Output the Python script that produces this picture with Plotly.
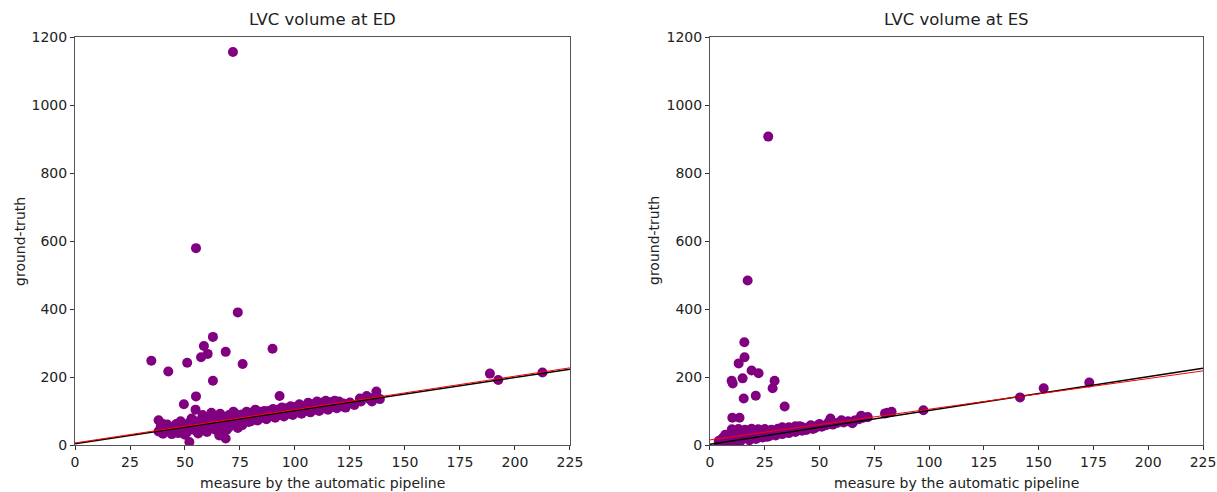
import plotly.graph_objects as go
from plotly.subplots import make_subplots

# ---------------- data ----------------
ed_outlier_x = [71.8, 55, 74, 34.7, 42.4, 51, 58.6, 57.3, 60.3, 62.7, 68.5, 76.2, 89.8, 62.7, 55,
                49.5, 54.8, 93, 38, 52, 68.5, 65.6, 188.6, 192.4, 212.5, 137, 138.6, 129.5, 132.6, 124]
ed_outlier_y = [1156, 579, 390, 248, 216, 242, 291, 258, 268, 318, 274, 238, 283, 189, 143,
                120, 104, 144, 73, 9, 19, 28, 210, 191, 213, 157, 135, 137, 144, 120]

ed_band_x = [38, 39, 40, 41, 42, 43, 44, 45, 46, 47, 48, 49, 50, 51, 52, 53, 54, 55, 56, 57,
             58, 59, 60, 61, 62, 63, 64, 65, 66, 67, 68, 69, 70, 71, 72, 73, 74, 75, 76, 77,
             78, 79, 80, 81, 82, 83, 84, 85, 86, 87, 88, 89, 90, 91, 92, 93, 94, 95, 96, 97,
             98, 99, 100, 101, 102, 103, 104, 105, 106, 107, 108, 109, 110, 111, 112, 113, 114, 115, 116, 117,
             118, 119, 120, 121, 122, 123, 125, 127, 130, 134, 136, 135,
             40, 44, 48, 50, 53, 56, 58, 60, 62, 64, 66, 67, 70, 72, 74, 58, 62, 46, 54, 66,
             70, 76, 80, 84, 88, 92, 96, 100, 104, 108, 112, 116, 78, 82, 86, 90, 94, 98, 102, 106,
             110, 114, 118]
ed_band_y = [40, 55, 33, 48, 60, 38, 52, 42, 62, 35, 50, 44, 58, 38, 66, 47, 55, 42, 70, 52,
             47, 78, 60, 50, 74, 56, 85, 62, 52, 80, 66, 45, 88, 70, 60, 92, 75, 64, 90, 72,
             80, 68, 95, 78, 86, 72, 98, 82, 90, 76, 100, 85, 94, 80, 104, 88, 96, 84, 108, 92,
             100, 88, 112, 96, 104, 92, 115, 100, 108, 96, 120, 104, 112, 100, 124, 108, 116, 104, 126, 112,
             120, 108, 128, 114, 122, 110, 125, 118, 128, 135, 140, 128,
             62, 32, 70, 30, 78, 34, 88, 38, 95, 44, 92, 36, 52, 98, 50, 62, 64, 50, 66, 74,
             76, 58, 70, 78, 84, 92, 94, 100, 104, 110, 114, 118, 98, 104, 100, 106, 110, 114, 120, 124,
             128, 130, 130]

es_outlier_x = [26.6, 17.2, 15.7, 15.8, 13.1, 9.9, 10.4, 14.9, 19, 22.2, 29.5, 28.6, 15.4, 20.9,
                34.1, 10.2, 13.5, 97.4, 141.5, 152.3, 173.1, 79.9, 82.9, 81]
es_outlier_y = [907, 484, 302, 258, 240, 189, 181, 196, 219, 211, 189, 167, 137, 145,
                113, 80, 80, 102, 140, 167, 184, 93, 98, 95]

es_band_x = [10, 13, 16, 19, 22, 25, 28, 31, 34, 37,
             7, 10, 13, 16, 19, 22, 25, 28, 31, 34,
             5, 8, 11, 14, 17, 20, 23, 26,
             4, 6, 8, 10, 12, 14, 6, 4,
             18, 21, 24, 27, 30, 33, 36, 39, 42,
             38, 40, 41, 43, 45, 46, 48, 49, 50, 51, 53, 54, 55, 56, 58, 60, 61, 63, 65, 66, 68, 69, 70, 72,
             44, 47, 36, 33, 39, 42]
es_band_y = [46, 47, 45, 48, 46, 47, 45, 48, 47, 50,
             30, 34, 31, 33, 30, 35, 32, 36, 34, 38,
             15, 18, 20, 17, 22, 20, 25, 24,
             4, 8, 6, 10, 9, 12, 22, 12,
             14, 18, 22, 26, 28, 32, 35, 38, 42,
             42, 48, 55, 46, 52, 58, 50, 57, 62, 54, 58, 66, 78, 60, 65, 73, 66, 70, 64, 72, 76, 86, 80, 82,
             44, 47, 52, 52, 55, 53]

line_x = [0, 225]
ed_black_y = [4, 223]
ed_red_y = [6, 227]
es_black_y = [2, 226]
es_red_y = [15, 218]

titles = ["LVC volume at ED", "LVC volume at ES"]
x_ticks = [0, 25, 50, 75, 100, 125, 150, 175, 200, 225]
y_ticks = [0, 200, 400, 600, 800, 1000, 1200]

# ---------------- figure ----------------
PURPLE = "#800080"
FONT = "DejaVu Sans"
fig = make_subplots(rows=1, cols=2, horizontal_spacing=0.1241)

panels = [
    (ed_outlier_x + ed_band_x, ed_outlier_y + ed_band_y, ed_black_y, ed_red_y),
    (es_outlier_x + es_band_x, es_outlier_y + es_band_y, es_black_y, es_red_y),
]
for i, (px, py, by, ry) in enumerate(panels, start=1):
    fig.add_trace(go.Scatter(x=px, y=py, mode="markers",
                             marker=dict(color=PURPLE, size=10, line=dict(width=0)),
                             hoverinfo="skip"), row=1, col=i)
    fig.add_trace(go.Scatter(x=line_x, y=by, mode="lines",
                             line=dict(color="black", width=1.5)), row=1, col=i)
    fig.add_trace(go.Scatter(x=line_x, y=ry, mode="lines",
                             line=dict(color="red", width=1)), row=1, col=i)

axis_common = dict(showline=True, mirror=True, linecolor="#555555", linewidth=1,
                   ticks="outside", ticklen=4, tickcolor="#333333", showgrid=False,
                   zeroline=False, automargin=False,
                   tickfont=dict(family=FONT, size=14, color="#222222"))
for i in (1, 2):
    fig.update_xaxes(range=[0, 225], tickvals=x_ticks, row=1, col=i, **axis_common)
    fig.update_yaxes(range=[0, 1200], tickvals=y_ticks, row=1, col=i, **axis_common)

fig.update_layout(width=1217, height=492, margin=dict(l=75, r=14, t=37, b=47, autoexpand=False),
                  plot_bgcolor="white", paper_bgcolor="white", showlegend=False,
                  font=dict(family=FONT, color="#222222"))
fig.update_layout(xaxis=dict(domain=[0, 0.4388]), xaxis2=dict(domain=[0.5629, 1]))

ann = []
for cx, t in zip([0.2194, 0.7815], titles):
    ann.append(dict(text=t, x=cx, y=1.0417, xref="paper", yref="paper", showarrow=False,
                    xanchor="center", yanchor="middle", font=dict(family=FONT, size=16.5, color="#222222")))
    ann.append(dict(text="measure by the automatic pipeline", x=cx, y=-0.0931, xref="paper", yref="paper",
                    showarrow=False, xanchor="center", yanchor="middle",
                    font=dict(family=FONT, size=14, color="#222222")))
for lx in (-0.0488, 0.5133):
    ann.append(dict(text="ground-truth", x=lx, y=0.5, xref="paper", yref="paper", showarrow=False,
                    textangle=-90, xanchor="center", yanchor="middle",
                    font=dict(family=FONT, size=14, color="#222222")))
fig.update_layout(annotations=ann)

fig.write_html("out.html", config={"displayModeBar": False},
               post_script="document.body.style.margin='0';document.body.style.overflow='hidden';")
